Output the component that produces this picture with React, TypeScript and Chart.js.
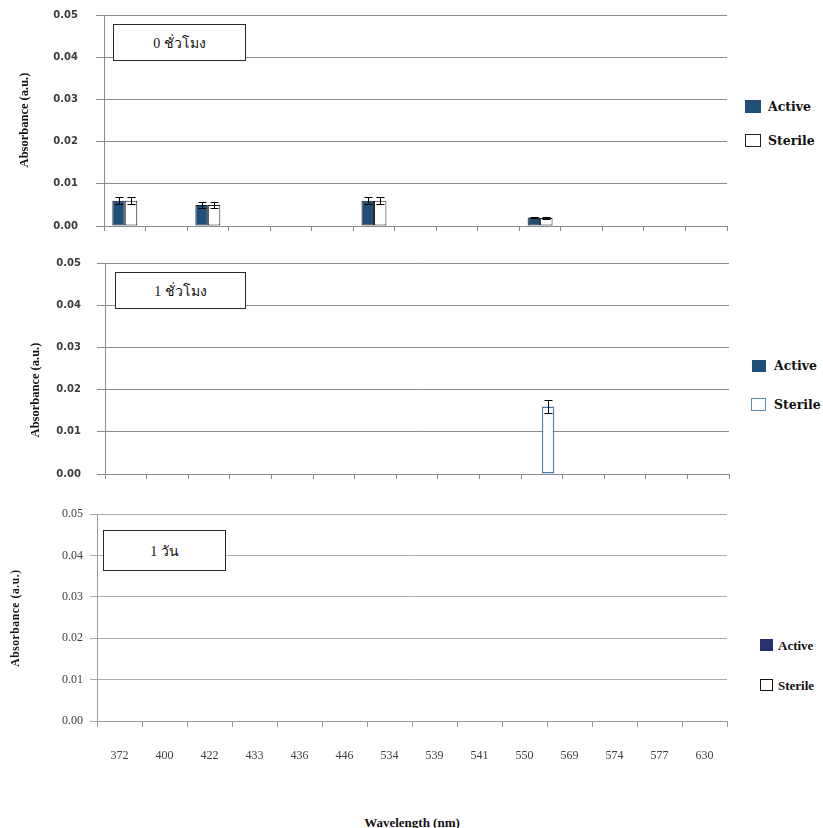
import React, { useEffect, useRef } from 'react';
import { Chart, registerables } from 'chart.js';

Chart.register(...registerables);

// ---------- data ----------
// Top two panels: 15 unlabeled category slots (labels are not shown in the source)
const slotLabels = ['s1', 's2', 's3', 's4', 's5', 's6', 's7', 's8', 's9', 's10', 's11', 's12', 's13', 's14', 's15'];
// Bottom panel wavelengths (nm)
const wavelengths = ['372', '400', '422', '433', '436', '446', '534', '539', '541', '550', '569', '574', '577', '630'];
const yTickValues = [0, 0.01, 0.02, 0.03, 0.04, 0.05];

const panelTitles = ['0 ชั่วโมง', '1 ชั่วโมง', '1 วัน'];
const seriesNames = ['Active', 'Sterile'];

const hour0Active = [0.006, 0, 0.005, 0, 0, 0, 0.006, 0, 0, 0, 0.002, 0, 0, 0, 0];
const hour0ActiveErr = [0.0008, 0, 0.0007, 0, 0, 0, 0.0008, 0, 0, 0, 0.0002, 0, 0, 0, 0];
const hour0Sterile = [0.006, 0, 0.005, 0, 0, 0, 0.006, 0, 0, 0, 0.0019, 0, 0, 0, 0];
const hour0SterileErr = [0.0008, 0, 0.0007, 0, 0, 0, 0.0008, 0, 0, 0, 0.0002, 0, 0, 0, 0];

const hour1Active = [0, 0, 0, 0, 0, 0, 0, 0, 0, 0, 0, 0, 0, 0, 0];
const hour1ActiveErr = [0, 0, 0, 0, 0, 0, 0, 0, 0, 0, 0, 0, 0, 0, 0];
const hour1Sterile = [0, 0, 0, 0, 0, 0, 0, 0, 0, 0, 0.016, 0, 0, 0, 0];
const hour1SterileErr = [0, 0, 0, 0, 0, 0, 0, 0, 0, 0, 0.0015, 0, 0, 0, 0];

const day1Active = [0, 0, 0, 0, 0, 0, 0, 0, 0, 0, 0, 0, 0, 0];
const day1Sterile = [0, 0, 0, 0, 0, 0, 0, 0, 0, 0, 0, 0, 0, 0];

// ---------- error bar plugin ----------
const errorBarPlugin = {
  id: 'errorBars',
  afterDatasetsDraw(chart: any, _args: any, opts: any) {
    const errs = opts && opts.errors;
    if (!errs) return;
    const y = chart.scales.y;
    const ctx = chart.ctx;
    ctx.save();
    ctx.strokeStyle = opts.color || '#000';
    ctx.lineWidth = opts.lineWidth || 1;
    chart.data.datasets.forEach((ds: any, i: number) => {
      const e = errs[i];
      if (!e) return;
      const meta = chart.getDatasetMeta(i);
      meta.data.forEach((bar: any, j: number) => {
        const err = e[j];
        if (!err) return;
        const v = ds.data[j];
        const x = Math.round(bar.x) + 0.5;
        const y1 = Math.round(y.getPixelForValue(v + err)) + 0.5;
        const y2 = Math.round(y.getPixelForValue(v - err)) + 0.5;
        const cap = opts.cap || 4;
        ctx.beginPath();
        ctx.moveTo(x, y1);
        ctx.lineTo(x, y2);
        ctx.moveTo(x - cap, y1);
        ctx.lineTo(x + cap, y1);
        ctx.moveTo(x - cap, y2);
        ctx.lineTo(x + cap, y2);
        ctx.stroke();
      });
    });
    ctx.restore();
  },
};

type PanelSpec = {
  labels: string[];
  active: number[];
  sterile: number[];
  errors: number[][] | null;
  activeColor: string;
  activeBorder: string;
  sterileBorder: string;
  sterileBorderWidth: number;
  width: number;
  height: number;
  plotTop: number;
  plotBottom: number;
  plotLeft: number;
  plotRight: number;
  tickFont: any;
  tickColor: string;
  yPad: number;
  yTickLen: number;
  xTickLen: number;
  showX: boolean;
  xPad: number;
  gridColor: string;
  axisColor: string;
};

function Panel({ spec, style }: { spec: PanelSpec; style: React.CSSProperties }) {
  const ref = useRef<HTMLCanvasElement | null>(null);
  useEffect(() => {
    if (!ref.current) return;
    const s = spec;
    const chart = new Chart(ref.current, {
      type: 'bar',
      data: {
        labels: s.labels,
        datasets: [
          {
            label: seriesNames[0],
            data: s.active,
            backgroundColor: s.activeColor,
            borderColor: s.activeBorder,
            borderWidth: 1,
            borderSkipped: false,
            inflateAmount: 0,
            categoryPercentage: 0.6,
            barPercentage: 1.0,
          } as any,
          {
            label: seriesNames[1],
            data: s.sterile,
            backgroundColor: '#ffffff',
            borderColor: s.sterileBorder,
            borderWidth: s.sterileBorderWidth,
            borderSkipped: false,
            inflateAmount: 0,
            categoryPercentage: 0.6,
            barPercentage: 1.0,
          } as any,
        ],
      },
      plugins: [errorBarPlugin],
      options: {
        animation: false,
        responsive: false,
        devicePixelRatio: 1,
        layout: {
          padding: { top: s.plotTop, right: s.width - s.plotRight, bottom: 0, left: 0 },
        },
        plugins: {
          legend: { display: false },
          tooltip: { enabled: false },
          title: { display: false },
          errorBars: { errors: s.errors, color: '#000', lineWidth: 1, cap: 4 },
        } as any,
        scales: {
          x: {
            type: 'category',
            offset: true,
            grid: {
              offset: true,
              drawOnChartArea: false,
              drawTicks: true,
              tickLength: s.xTickLen,
              color: s.axisColor,
            },
            border: { color: s.axisColor, width: 1 },
            ticks: {
              display: s.showX,
              font: { family: 'Liberation Serif', size: 12 },
              color: '#404040',
              padding: s.xPad,
              maxRotation: 0,
              minRotation: 0,
              autoSkip: false,
            },
            afterFit: (scale: any) => {
              scale.height = s.height - s.plotBottom;
              scale.paddingLeft = 0;
              scale.paddingRight = 0;
            },
          },
          y: {
            min: 0,
            max: 0.05,
            afterBuildTicks: (scale: any) => {
              scale.ticks = yTickValues.map((v) => ({ value: v }));
            },
            ticks: {
              callback: (v: any) => Number(v).toFixed(2),
              font: s.tickFont,
              color: s.tickColor,
              padding: s.yPad,
            },
            grid: { color: s.gridColor, tickLength: s.yTickLen, drawTicks: true },
            border: { color: s.axisColor, width: 1 },
            afterFit: (scale: any) => {
              scale.width = s.plotLeft;
              scale.paddingTop = 0;
              scale.paddingBottom = 0;
            },
          },
        },
      } as any,
    });
    return () => chart.destroy();
  }, [spec]);
  return <canvas ref={ref} width={spec.width} height={spec.height} style={{ position: 'absolute', ...style }} />;
}

const sansTick = { family: 'DejaVu Sans', size: 10, weight: 'bold' };
const serifTick = { family: 'Liberation Serif', size: 12 };

const spec0: PanelSpec = {
  labels: slotLabels,
  active: hour0Active,
  sterile: hour0Sterile,
  errors: [hour0ActiveErr, hour0SterileErr],
  activeColor: '#1f4e79',
  activeBorder: '#1a1a1a',
  sterileBorder: '#1a1a1a',
  sterileBorderWidth: 1,
  width: 740,
  height: 240,
  plotTop: 15,
  plotBottom: 226,
  plotLeft: 104,
  plotRight: 727,
  tickFont: sansTick,
  tickColor: '#3c3c3c',
  yPad: 18,
  yTickLen: 8,
  xTickLen: 5,
  showX: false,
  xPad: 0,
  gridColor: '#8c8c8c',
  axisColor: '#8c8c8c',
};

const spec1: PanelSpec = {
  labels: slotLabels,
  active: hour1Active,
  sterile: hour1Sterile,
  errors: [hour1ActiveErr, hour1SterileErr],
  activeColor: '#1f4e79',
  activeBorder: '#1f4e79',
  sterileBorder: '#4f7db3',
  sterileBorderWidth: 1.5,
  width: 740,
  height: 250,
  plotTop: 23,
  plotBottom: 234,
  plotLeft: 105,
  plotRight: 729,
  tickFont: sansTick,
  tickColor: '#3c3c3c',
  yPad: 16,
  yTickLen: 8,
  xTickLen: 5,
  showX: false,
  xPad: 0,
  gridColor: '#8c8c8c',
  axisColor: '#8c8c8c',
};

const spec2: PanelSpec = {
  labels: wavelengths,
  active: day1Active,
  sterile: day1Sterile,
  errors: null,
  activeColor: '#25326f',
  activeBorder: '#25326f',
  sterileBorder: '#000000',
  sterileBorderWidth: 1,
  width: 740,
  height: 290,
  plotTop: 24,
  plotBottom: 231,
  plotLeft: 97,
  plotRight: 727,
  tickFont: serifTick,
  tickColor: '#404040',
  yPad: 7,
  yTickLen: 7,
  xTickLen: 6,
  showX: true,
  xPad: 22,
  gridColor: '#ababab',
  axisColor: '#9a9a9a',
};

function YTitle({ cx, cy, font, size, spacing }: { cx: number; cy: number; font: string; size: number; spacing?: number }) {
  return (
    <div
      style={{
        position: 'absolute',
        left: cx,
        top: cy,
        transform: 'translate(-50%, -50%) rotate(-90deg)',
        whiteSpace: 'nowrap',
        fontFamily: font,
        fontWeight: 'bold',
        fontSize: size,
        letterSpacing: spacing || 0,
        color: '#111',
        lineHeight: 1,
      }}
    >
      Absorbance (a.u.)
    </div>
  );
}

function TitleBox({ x, y, w, h, text, size }: { x: number; y: number; w: number; h: number; text: string; size: number }) {
  return (
    <div
      style={{
        position: 'absolute',
        left: x,
        top: y,
        width: w,
        height: h,
        boxSizing: 'border-box',
        border: '1.5px solid #2a2a2a',
        background: '#fff',
        display: 'flex',
        alignItems: 'center',
        justifyContent: 'center',
        fontFamily: '"Liberation Serif", "Noto Sans", "DejaVu Sans", serif',
        fontSize: size,
        color: '#111',
        whiteSpace: 'nowrap',
      }}
    >
      {text}
    </div>
  );
}

function LegendItem({
  x, y, w, h, fill, border, label, font, size, textX,
}: {
  x: number; y: number; w: number; h: number; fill: string; border: string; label: string; font: string; size: number; textX: number;
}) {
  return (
    <>
      <div
        style={{
          position: 'absolute',
          left: x,
          top: y,
          width: w,
          height: h,
          boxSizing: 'border-box',
          background: fill,
          border: border,
        }}
      />
      <div
        style={{
          position: 'absolute',
          left: textX,
          top: y + h / 2,
          transform: 'translateY(-50%)',
          fontFamily: font,
          fontWeight: 'bold',
          fontSize: size,
          color: '#111',
          whiteSpace: 'nowrap',
          lineHeight: 1,
        }}
      >
        {label}
      </div>
    </>
  );
}

export default function App() {
  return (
    <div
      style={{
        position: 'absolute',
        left: 0,
        top: 0,
        width: 823,
        height: 828,
        background: '#fff',
        overflow: 'hidden',
      }}
    >
      <Panel spec={spec0} style={{ left: 0, top: 0 }} />
      <Panel spec={spec1} style={{ left: 0, top: 240 }} />
      <Panel spec={spec2} style={{ left: 0, top: 490 }} />

      <TitleBox x={113} y={24} w={133} h={37} text={panelTitles[0]} size={14} />
      <TitleBox x={115} y={272} w={131} h={37} text={panelTitles[1]} size={14} />
      <TitleBox x={103} y={530} w={123} h={41} text={panelTitles[2]} size={14} />

      <YTitle cx={24} cy={120} font='"Liberation Serif", serif' size={12.5} />
      <YTitle cx={35} cy={390} font='"Liberation Serif", serif' size={12.5} />
      <YTitle cx={16} cy={618} font='"Liberation Serif", serif' size={11.5} spacing={0.6} />

      <LegendItem x={745} y={100} w={16} h={13} fill="#1f4e79" border="none" label={seriesNames[0]} font='"DejaVu Serif", serif' size={12.5} textX={768} />
      <LegendItem x={745} y={134} w={16} h={13} fill="#fff" border="1.5px solid #222" label={seriesNames[1]} font='"DejaVu Serif", serif' size={12.5} textX={768} />

      <LegendItem x={752} y={360} w={14} h={12} fill="#1f4e79" border="none" label={seriesNames[0]} font='"DejaVu Serif", serif' size={12.5} textX={774} />
      <LegendItem x={751} y={398} w={15} h={13} fill="#fff" border="1.5px solid #5a86ba" label={seriesNames[1]} font='"DejaVu Serif", serif' size={12.5} textX={774} />

      <LegendItem x={760} y={639} w={13} h={12} fill="#25326f" border="none" label={seriesNames[0]} font='"Liberation Serif", serif' size={13} textX={778} />
      <LegendItem x={760} y={679} w={13} h={12} fill="#fff" border="1.5px solid #111" label={seriesNames[1]} font='"Liberation Serif", serif' size={13} textX={778} />

      <div
        style={{
          position: 'absolute',
          left: 412,
          top: 822,
          transform: 'translate(-50%, -50%)',
          fontFamily: '"Liberation Serif", serif',
          fontWeight: 'bold',
          fontSize: 13,
          color: '#111',
          whiteSpace: 'nowrap',
          lineHeight: 1,
        }}
      >
        Wavelength (nm)
      </div>
    </div>
  );
}
